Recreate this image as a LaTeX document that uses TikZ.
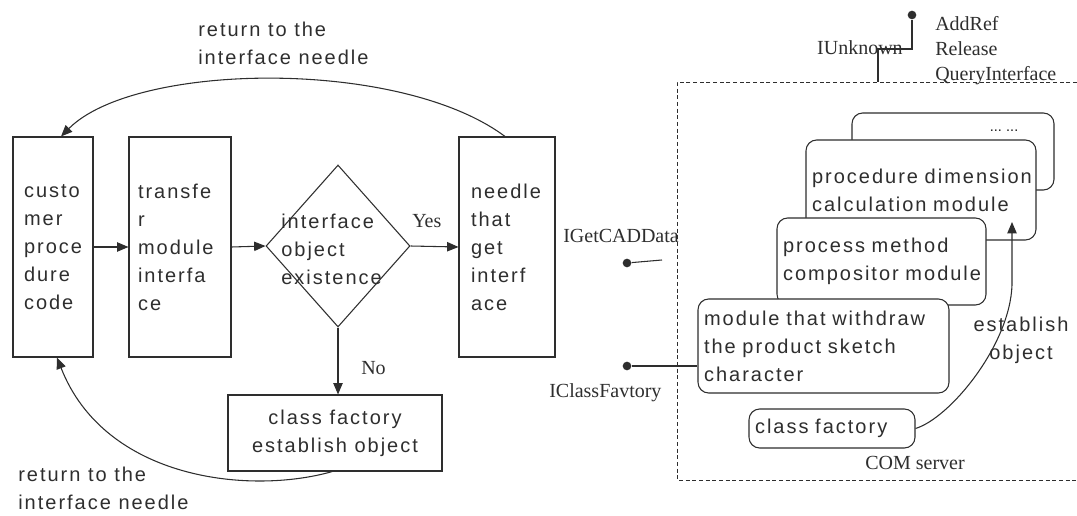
\documentclass[tikz,border=0pt]{standalone}
\usepackage{fontspec}
\setmainfont{Liberation Serif}
\setsansfont{Liberation Sans}[LetterSpace=10]
\usetikzlibrary{shapes.geometric,arrows.meta,calc}

\definecolor{ink}{gray}{0.18}

\tikzset{
  lbl/.style={font=\fontsize{15pt}{18.5pt}\selectfont, text=ink, inner sep=0pt},
  stxt/.style={font=\sffamily\fontsize{15pt}{21pt}\selectfont, text=ink},
  link/.style={draw=ink, line width=0.8pt},
  flow/.style={link, -{Triangle[length=8.5pt,width=7pt]}},
  flowbox/.style={stxt, link, rectangle, minimum height=165pt, inner ysep=2pt, align=left},
  modbox/.style={stxt, link, rectangle, rounded corners=8pt, fill=white,
                 inner ysep=2pt, inner xsep=4.5pt, align=left},
  pin/.style={circle, fill=ink, inner sep=0pt, minimum size=6.5pt},
  server/.style={draw=ink, line width=0.7pt, dash pattern=on 3pt off 2pt},
}

\begin{document}
\begin{tikzpicture}[x=0.75pt, y=-0.75pt]
\useasboundingbox (0,0) rectangle (1077,516);

% ---------- client side flow ----------
\node[flowbox, minimum width=60pt, text width=43.5pt, inner xsep=8.25pt]
  (cust) at (53,247) {custo\\mer\\proce\\dure\\code};
\node[flowbox, minimum width=76.5pt, text width=63pt, inner xsep=6.75pt]
  (xfer) at (180,247) {transfe\\r\\module\\interfa\\ce};
\node[link, diamond, minimum width=108pt, minimum height=121.5pt, inner sep=0pt]
  (test) at (338,246) {};
\node[stxt, anchor=west, align=left, inner sep=0pt]
  (testtxt) at (281,249) {interface\\object\\existence};
\node[flowbox, minimum width=72pt, text width=54pt, inner xsep=9pt]
  (needle) at (507,247) {needle\\that\\get\\interf\\ace};
\node[stxt, link, rectangle, align=center, minimum width=160.5pt, minimum height=57pt]
  (lcf) at (335,433) {class factory\\establish object};

\draw[flow] (cust.east) -- (xfer.west);
\draw[flow] (xfer.east) -- (test.west);
\draw[flow] (test.east) -- (needle.west);
\draw[flow] (test.south) -- (test.south |- lcf.north);

\node[lbl, anchor=base west] (yes) at (412,228) {Yes};
\node[lbl, anchor=base west] (no) at (361,374) {No};

% return paths
\draw[flow] ([xshift=-1.5pt]needle.north) .. controls (400,58) and (135,62) .. ([xshift=6pt]cust.north);
\node[stxt, anchor=north west, align=left, inner sep=0pt]
  (toplbl) at (198,22) {return to the\\interface needle};

\draw[flow] ([xshift=-2pt]lcf.south) .. controls (250,495) and (105,480) .. ([xshift=3pt]cust.south);
\node[stxt, anchor=north west, align=left, inner sep=0pt]
  (botlbl) at (18,467) {return to the\\interface needle};

% ---------- COM server ----------
\draw[server] (1077,82) -| (677,480) -- (1077,480);

\coordinate (ujoin) at (878,82);
\coordinate (ubend) at (912,49);
\node[pin] (upin) at (912,15) {};
\draw[link] (ujoin) |- (ubend) -- (upin);
\node[lbl, anchor=base east] (iunk) at (903,55) {IUnknown};
\node[lbl, anchor=north west, align=left] (methods) at (935,16.5) {AddRef\\Release\\QueryInterface};

% stacked modules, back to front
\node[modbox, minimum width=151.5pt, minimum height=57.75pt] (more) at (953,151.5) {};
\node[font=\sffamily\bfseries\fontsize{8pt}{8pt}\selectfont, text=ink, inner sep=0pt]
  (moretxt) at (1004,131) {... ...};
\node[modbox, minimum width=172.5pt, minimum height=75pt, text width=163.5pt]
  (calc) at (921,190) {procedure dimension\\calculation module};
\node[modbox, minimum width=156.75pt, minimum height=65.25pt, text width=147.75pt]
  (proc) at (881.5,261.5) {process method\\compositor module};
\node[modbox, minimum width=188.25pt, minimum height=70.5pt, text width=179.25pt]
  (sketch) at (823.5,346) {module that withdraw\\the product sketch\\character};
\node[modbox, minimum width=124.5pt, minimum height=29.25pt, text width=115.5pt]
  (rcf) at (832,428.5) {class factory};

\node[lbl, anchor=base west] (comlbl) at (865,469) {COM server};

% object creation by the class factory
\coordinate (mkbend) at (1012,285);
\coordinate (mktip) at (1012,222);
\draw[flow] (rcf.east) .. controls (950,418) and (1010,345) .. (mkbend) -- (mktip);
\node[stxt, align=center, inner sep=0pt] (mklbl) at (1021,340) {establish\\object};

% exposed interfaces
\node[lbl, anchor=base west] (igcd) at (563,243) {IGetCADData};
\node[pin] (gpin) at (627,263) {};
\coordinate (gend) at (662,260);
\draw[link] (gpin) -- (gend);

\node[pin] (cpin) at (627,366) {};
\draw[link] (cpin) -- (cpin -| sketch.west);
\node[lbl, anchor=base west] (icf) at (549,397) {IClassFavtory};
\end{tikzpicture}
\end{document}
